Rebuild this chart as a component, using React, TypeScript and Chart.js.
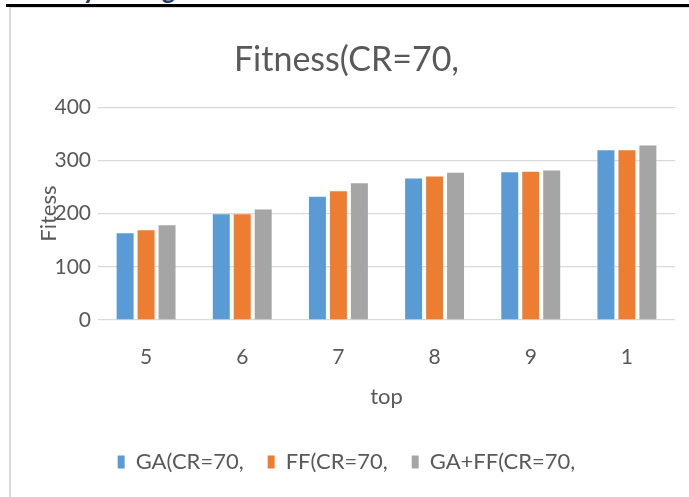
import React, { useEffect, useRef } from "react";
import { Chart, registerables } from "chart.js";

Chart.register(...registerables);

const categories = ["5", "6", "7", "8", "9", "1"];
const gaValues = [163, 199, 232, 266, 278, 319];
const ffValues = [169, 199, 242, 270, 279, 319];
const gaFfValues = [178, 208, 257, 277, 281, 328];
const seriesLabels = ["GA(CR=70,", "FF(CR=70,", "GA+FF(CR=70,"];
const seriesColors = ["#5B9BD5", "#ED7D31", "#A5A5A5"];
const chartTitle = "Fitness(CR=70,";
const xTitle = "top";
const yTitle = "Fitess";

const FONT = "Lato";
const TEXT = "#595959";

export default function App() {
  const ref = useRef<HTMLCanvasElement | null>(null);

  useEffect(() => {
    if (!ref.current) return;
    const chart = new Chart(ref.current, {
      type: "bar",
      data: {
        labels: categories,
        datasets: [gaValues, ffValues, gaFfValues].map((d, i) => ({
          label: seriesLabels[i],
          data: d,
          backgroundColor: seriesColors[i],
          borderWidth: 0,
          categoryPercentage: 0.654,
          barPercentage: 0.81,
        })),
      },
      options: {
        animation: false,
        responsive: false,
        maintainAspectRatio: false,
        layout: { padding: { left: 7, right: 14, top: 0, bottom: 14 } },
        plugins: {
          tooltip: { enabled: false },
          title: {
            display: true,
            text: chartTitle,
            color: TEXT,
            font: { family: FONT, size: 34, weight: "normal" },
            padding: { top: 32, bottom: 26.5 },
          },
          legend: {
            display: true,
            position: "bottom",
            labels: {
              boxWidth: 7,
              boxHeight: 13,
              padding: 24,
              color: TEXT,
              font: { family: FONT, size: 22 },
            },
          },
        },
        scales: {
          x: {
            grid: { display: false, drawTicks: false },
            border: { display: false },
            ticks: {
              color: TEXT,
              font: { family: FONT, size: 21 },
              padding: 25,
            },
            title: {
              display: true,
              text: xTitle,
              color: TEXT,
              font: { family: FONT, size: 22 },
              padding: { top: 0, bottom: 16.5 },
            },
            afterFit: (s: any) => {
              s.height = 107;
            },
          },
          y: {
            min: 0,
            max: 400,
            grid: { color: "#D9D9D9", lineWidth: 1.3, drawTicks: false },
            border: { display: false },
            ticks: {
              stepSize: 100,
              color: TEXT,
              font: { family: FONT, size: 21 },
              padding: 7,
            },
            title: {
              display: true,
              text: yTitle,
              color: TEXT,
              font: { family: FONT, size: 22 },
              padding: { top: 18, bottom: 0 },
            },
            afterFit: (s: any) => {
              s.width = 80;
            },
          },
        },
      },
    });
    return () => chart.destroy();
  }, []);

  const navy: React.CSSProperties = {
    position: "absolute",
    top: -25,
    fontFamily: "Lato",
    fontWeight: 900,
    fontSize: 24,
    lineHeight: "29px",
    color: "#1F3864",
    whiteSpace: "nowrap",
  };

  return (
    <div
      style={{
        position: "fixed",
        left: 0,
        top: 0,
        width: 689,
        height: 497,
        overflow: "hidden",
        background: "#fff",
      }}
    >
      <div style={{ ...navy, left: 83 }}>{"y"}</div>
      <div style={{ ...navy, left: 162 }}>{"g"}</div>
      <div style={{ position: "absolute", left: 6, top: 4, width: 683, height: 3, background: "#000" }} />
      <div style={{ position: "absolute", left: 9, top: 7, width: 680, height: 1, background: "#D9D9D9" }} />
      <div style={{ position: "absolute", left: 9, top: 7, width: 2, height: 490, background: "#D9D9D9" }} />
      <canvas
        ref={ref}
        width={678}
        height={489}
        style={{ position: "absolute", left: 11, top: 8, width: 678, height: 489 }}
      />
    </div>
  );
}
